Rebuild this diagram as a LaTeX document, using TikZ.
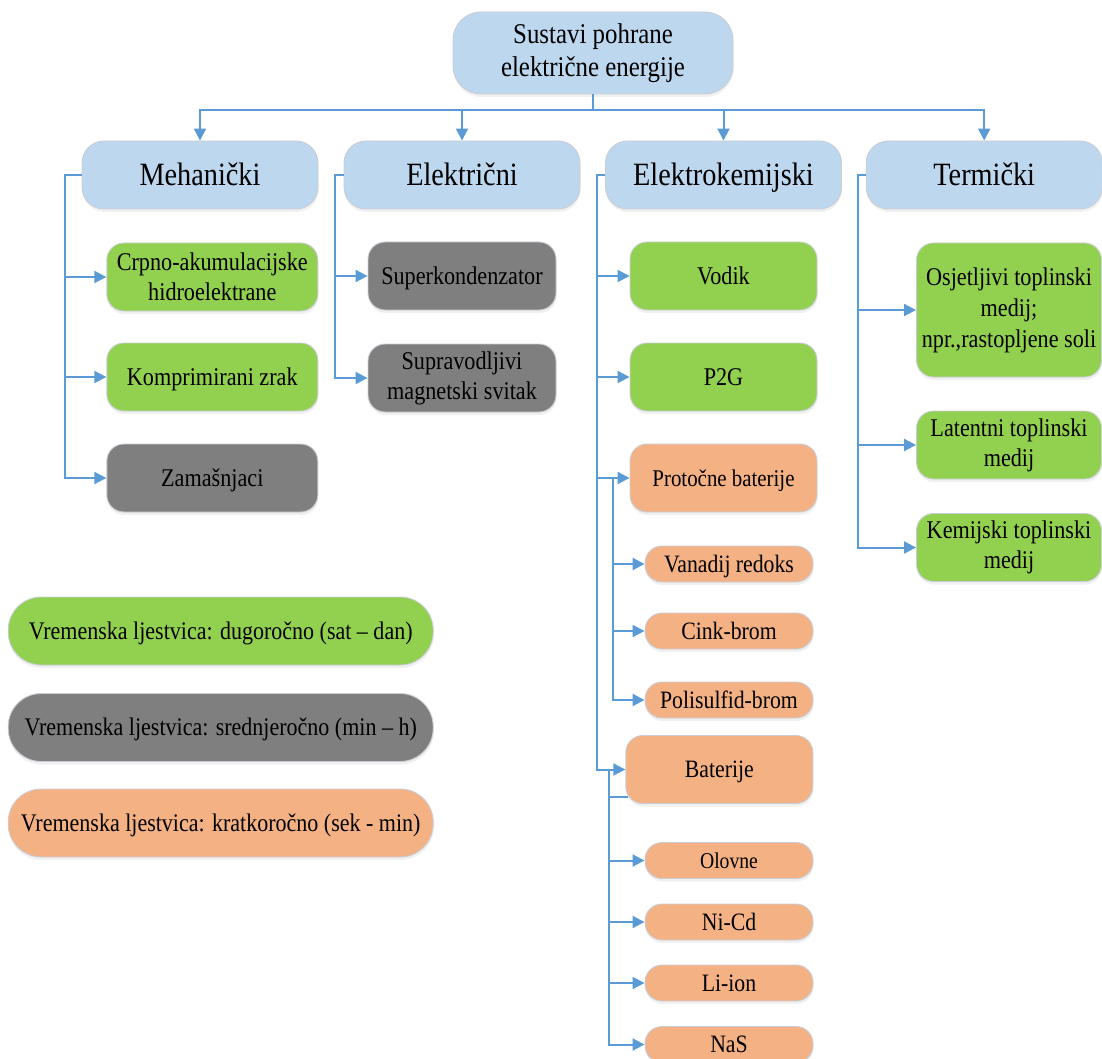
\documentclass[tikz,border=0pt]{standalone}
\usepackage{fontspec}
\setmainfont{Liberation Serif}[FakeStretch=0.87]
\usepackage{tikz}
\usetikzlibrary{positioning,arrows.meta,shadows}

\definecolor{skyfill}{HTML}{BDD7EE}
\definecolor{leaf}{HTML}{92D050}
\definecolor{slate}{HTML}{7F7F7F}
\definecolor{peach}{HTML}{F4B183}
\definecolor{linkblue}{HTML}{5B9BD5}
\definecolor{rim}{HTML}{C9CED6}

\newcommand{\fsz}[2]{\fontsize{#1}{#2}\selectfont}

\begin{document}
\begin{tikzpicture}[x=1pt,y=-1pt,
    nodebox/.style={draw=rim, line width=0.9pt, align=center, inner sep=1pt, text=black,
      drop shadow={opacity=0.12, shadow xshift=0.5pt, shadow yshift=-3pt}},
    catbox/.style={nodebox, fill=skyfill, rounded corners=22pt, minimum width=236pt, minimum height=68pt,
      font=\fsz{32.5}{36}, text height=29.6pt, text depth=8pt},
    techbox/.style={nodebox, rounded corners=17pt, minimum height=68pt, font=\fsz{25.5}{30}},
    oneline/.style={text height=23pt, text depth=6.1pt},
    subbox/.style={nodebox, fill=peach, rounded corners=17pt, minimum width=168pt, minimum height=36pt,
      font=\fsz{25}{30}, text height=22.5pt, text depth=6pt},
    keybox/.style={nodebox, rounded corners=33pt, minimum width=425pt, minimum height=68pt,
      font=\fsz{25.3}{30}, text height=22.8pt, text depth=6pt},
    trunk/.style={draw=linkblue, line width=2pt},
    feed/.style={trunk, -{Triangle[length=12pt,width=12pt]}}]
  \useasboundingbox (0,0) rectangle (1102,1059);

  \node[nodebox, fill=skyfill, rounded corners=28pt, minimum width=280pt, minimum height=82pt,
        font=\fsz{28.6}{33.5}] (root) at (593,53) {Sustavi pohrane\\električne energije};

  % categories
  \node[catbox] (mech) at (200,175) {Mehanički};
  \node[catbox] (elec) at (462,175) {Električni};
  \node[catbox] (chem) at (723.5,175) {Elektrokemijski};
  \node[catbox] (therm) at (984.2,175) {Termički};

  \node[techbox, fill=leaf, minimum width=211pt] (pump) at (212.3,277) {Crpno-akumulacijske\\hidroelektrane};
  \node[techbox, oneline, fill=leaf, minimum width=211pt] (air) at (212.3,377) {Komprimirani zrak};
  \node[techbox, oneline, fill=slate, minimum width=211pt] (fly) at (212.3,478) {Zamašnjaci};

  \node[techbox, oneline, fill=slate, minimum width=188pt] (cap) at (462,276) {Superkondenzator};
  \node[techbox, fill=slate, minimum width=188pt] (smes) at (462,378) {Supravodljivi\\magnetski svitak};

  \node[techbox, oneline, fill=leaf, minimum width=187pt] (hyd) at (723.5,276) {Vodik};
  \node[techbox, oneline, fill=leaf, minimum width=187pt] (ptg) at (723.5,377) {P2G};
  \node[techbox, oneline, fill=peach, minimum width=187pt, font=\fsz{24}{30}] (flow) at (723.5,478) {Protočne baterije};
  \node[subbox] (vrb) at (729,564) {Vanadij redoks};
  \node[subbox] (znbr) at (729,631) {Cink-brom};
  \node[subbox] (psb) at (729,700) {Polisulfid-brom};
  \node[techbox, oneline, fill=peach, minimum width=187pt, font=\fsz{25}{30}] (batt) at (719.3,769.5) {Baterije};
  \node[subbox, font=\fsz{22.6}{28}] (lead) at (729,860.5) {Olovne};
  \node[subbox] (nicd) at (729,922) {Ni-Cd};
  \node[subbox] (liion) at (729,983) {Li-ion};
  \node[subbox] (nas) at (729,1044.5) {NaS};

  \node[techbox, fill=leaf, minimum width=185pt, minimum height=134pt, font=\fsz{25.5}{31}] (sens) at (1009,310)
       {Osjetljivi toplinski\\medij;\\npr.,rastopljene soli};
  \node[techbox, fill=leaf, minimum width=185pt] (lat) at (1009,445) {Latentni toplinski\\medij};
  \node[techbox, fill=leaf, minimum width=185pt] (chm) at (1009,547.5) {Kemijski toplinski\\medij};

  % legend
  \node[keybox, fill=leaf] (long) at (220.7,631) {Vremenska ljestvica: dugoročno (sat – dan)};
  \node[keybox, fill=slate] (mid) at (220.7,727.5) {Vremenska ljestvica: srednjeročno (min – h)};
  \node[keybox, fill=peach] (short) at (220.7,823) {Vremenska ljestvica: kratkoročno (sek - min)};

  % connectors
  \coordinate (bus) at (0,110);
  \draw[trunk] (root.south) -- (root.south |- bus);
  \foreach \n in {mech,elec,chem,therm}
    \draw[feed] (root.south |- bus) -| (\n.north);
  \foreach \n in {pump,air,fly}
    \draw[feed] (mech.west) -- ++(-17,0) |- (\n.west);
  \foreach \n in {cap,smes}
    \draw[feed] (elec.west) -- ++(-8.6,0) |- (\n.west);
  \foreach \n in {hyd,ptg,flow,batt}
    \draw[feed] (chem.west) -- ++(-8,0) |- (\n.west);
  \foreach \n in {sens,lat,chm}
    \draw[feed] (therm.west) -- ++(-7.7,0) |- (\n.west);
  \foreach \n in {vrb,znbr,psb}
    \draw[feed] ([xshift=-17pt]flow.west) |- (\n.west);
  \foreach \n in {lead,nicd,liion,nas}
    \draw[feed] ([xshift=-16.7pt]batt.west) |- (\n.west);
  \draw[trunk] ([xshift=-16.7pt,yshift=7pt]batt.south west) -- ([xshift=3pt,yshift=7pt]batt.south west);
\end{tikzpicture}
\end{document}
